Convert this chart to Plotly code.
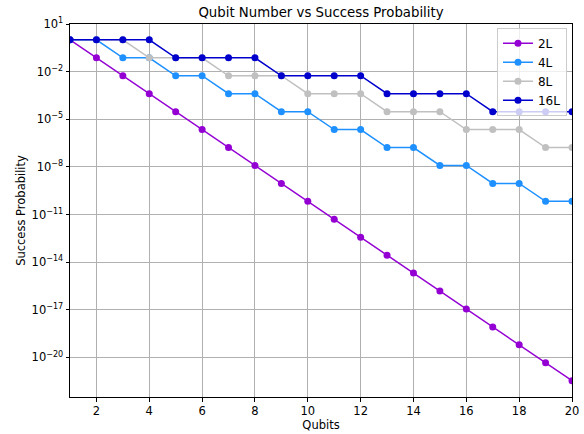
import plotly.graph_objects as go

qubits = list(range(1, 21))
p_2L = [1.0, 7.41e-2, 5.49e-3, 4.06e-4, 3.01e-5, 2.23e-6, 1.65e-7, 1.22e-8, 9.07e-10, 6.72e-11,
        4.98e-12, 3.69e-13, 2.73e-14, 2.02e-15, 1.50e-16, 1.11e-17, 8.22e-19, 6.09e-20, 4.51e-21, 3.34e-22]
p_4L = [1.0, 1.0, 7.41e-2, 7.41e-2, 5.49e-3, 5.49e-3, 4.06e-4, 4.06e-4, 3.01e-5, 3.01e-5,
        2.23e-6, 2.23e-6, 1.65e-7, 1.65e-7, 1.22e-8, 1.22e-8, 9.07e-10, 9.07e-10, 6.72e-11, 6.72e-11]
p_8L = [1.0, 1.0, 1.0, 7.41e-2, 7.41e-2, 7.41e-2, 5.49e-3, 5.49e-3, 5.49e-3, 4.06e-4,
        4.06e-4, 4.06e-4, 3.01e-5, 3.01e-5, 3.01e-5, 2.23e-6, 2.23e-6, 2.23e-6, 1.65e-7, 1.65e-7]
p_16L = [1.0, 1.0, 1.0, 1.0, 7.41e-2, 7.41e-2, 7.41e-2, 7.41e-2, 5.49e-3, 5.49e-3,
         5.49e-3, 5.49e-3, 4.06e-4, 4.06e-4, 4.06e-4, 4.06e-4, 3.01e-5, 3.01e-5, 3.01e-5, 3.01e-5]

series = [("2L", p_2L, "#9400D3"), ("4L", p_4L, "#1E90FF"),
          ("8L", p_8L, "#C0C0C0"), ("16L", p_16L, "#0000CD")]

x_ticks = [2, 4, 6, 8, 10, 12, 14, 16, 18, 20]
y_exps = [1, -2, -5, -8, -11, -14, -17, -20]
y_tickvals = [10.0 ** e for e in y_exps]
y_ticktext = ["10<sup>%s</sup>" % (str(e).replace("-", "\u2212")) for e in y_exps]

fig = go.Figure()
for name, vals, color in series:
    fig.add_trace(go.Scatter(x=qubits, y=vals, name=name, mode="lines+markers",
                             line=dict(color=color, width=1.5),
                             marker=dict(color=color, size=7)))

font = "DejaVu Sans, sans-serif"
fig.update_layout(
    width=584, height=434,
    margin=dict(l=70, r=12, t=24, b=37),
    paper_bgcolor="white", plot_bgcolor="white",
    font=dict(family=font, size=11.5, color="black"),
    title=dict(text="Qubit Number vs Success Probability", x=(70 + 572) / 2 / 584,
               xanchor="center", y=1 - 12.5 / 434, yanchor="middle",
               font=dict(size=13.3, color="black")),
    showlegend=True,
    legend=dict(x=0.99, y=0.99, xanchor="right", yanchor="top",
                bgcolor="rgba(255,255,255,0.8)", bordercolor="#cccccc", borderwidth=1,
                font=dict(size=12)),
)
fig.update_xaxes(range=[1, 20], tickvals=x_ticks, showgrid=True, gridcolor="#b0b0b0",
                 gridwidth=0.8, showline=True, linecolor="black", linewidth=1, mirror=True,
                 ticks="outside", ticklen=3.5, tickcolor="black", zeroline=False,
                 automargin=False,
                 title=dict(text="Qubits", font=dict(size=11.5), standoff=3))
fig.update_yaxes(type="log", range=[-22.5, 1], tickvals=y_tickvals, ticktext=y_ticktext,
                 showgrid=True, gridcolor="#b0b0b0", gridwidth=0.8, showline=True,
                 linecolor="black", linewidth=1, mirror=True, ticks="outside", ticklen=3.5,
                 tickcolor="black", zeroline=False, automargin=False,
                 title=dict(text="Success Probability", font=dict(size=11.5), standoff=3))

fig.write_html("out.html")
